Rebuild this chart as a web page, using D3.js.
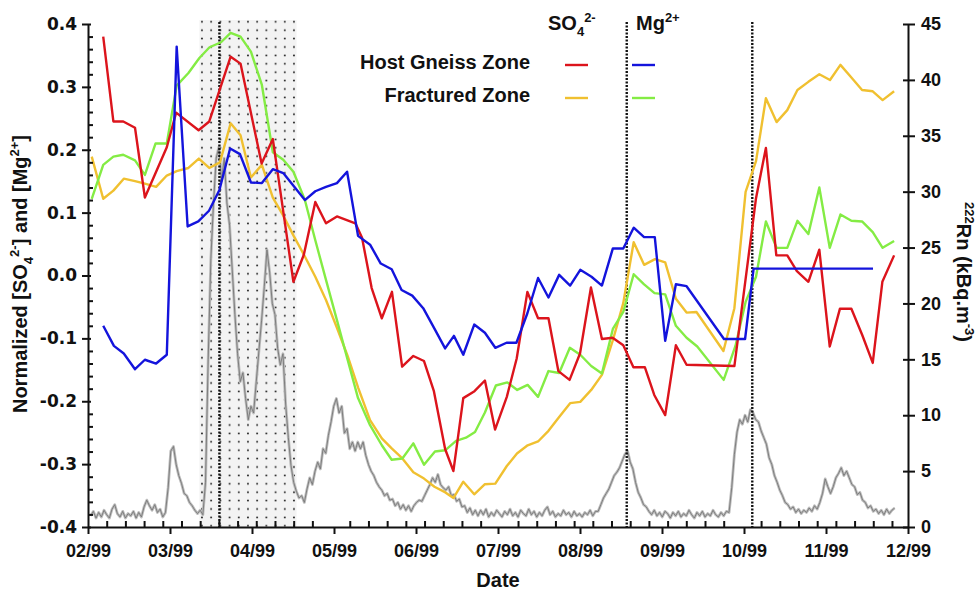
<!DOCTYPE html>
<html>
<head>
<meta charset="utf-8">
<script src="https://cdn.jsdelivr.net/npm/d3@7"></script>
<style>
  body { margin: 0; background: #fff; }
  svg { display: block; font-family: "Liberation Sans", Arial, sans-serif; font-weight: bold; }
</style>
</head>
<body>
<div id="chart"></div>
<script>
// ---- data (x = days after 1 Feb 1999, as laid out on the axis) ----
const monthLabels = ["02/99", "03/99", "04/99", "05/99", "06/99", "07/99", "08/99", "09/99", "10/99", "11/99", "12/99"];
const dayMax = 307;
const leftTickValues = [-0.4, -0.3, -0.2, -0.1, 0, 0.1, 0.2, 0.3, 0.4];
const leftTickLabels = ["-0.4", "-0.3", "-0.2", "-0.1", "0.0", "0.1", "0.2", "0.3", "0.4"];
const rightTickValues = [0, 5, 10, 15, 20, 25, 30, 35, 40, 45];
const shadedPeriod = [41.7, 78.1];
const markerDays = [49.2, 201.7, 248.7];

// SO4 2- , host gneiss zone
const so4Host = [[5.7,0.380],[9.5,0.245],[13.2,0.245],[17.6,0.235],[21.3,0.124],[29.5,0.204],[33.0,0.259],[41.4,0.231],[45.4,0.245],[53.4,0.348],[57.1,0.337],[65.0,0.178],[69.2,0.217],[76.9,-0.010],[80.8,0.033],[85.1,0.117],[89.1,0.083],[93.2,0.094],[100.1,0.083],[102.6,0.060],[106.2,-0.020],[110.0,-0.068],[113.8,-0.026],[117.6,-0.145],[121.8,-0.128],[125.8,-0.136],[129.5,-0.184],[133.7,-0.276],[136.8,-0.311],[140.5,-0.195],[144.7,-0.184],[148.6,-0.167],[152.4,-0.245],[156.8,-0.193],[160.5,-0.132],[164.5,-0.026],[168.5,-0.068],[172.4,-0.068],[176.1,-0.152],[180.3,-0.166],[184.2,-0.124],[188.3,-0.019],[192.4,-0.101],[196.4,-0.099],[200.4,-0.111],[204.2,-0.146],[208.5,-0.146],[212.0,-0.190],[216.1,-0.222],[220.1,-0.111],[224.1,-0.142],[242.0,-0.144],[250.1,0.123],[253.8,0.203],[257.7,0.032],[261.8,0.032],[265.4,0.007],[269.7,-0.010],[273.8,0.041],[277.7,-0.113],[281.5,-0.053],[285.8,-0.053],[289.9,-0.095],[293.8,-0.139],[297.4,-0.010],[301.8,0.032]];

// Mg 2+ , host gneiss zone
const mgHost = [[5.7,-0.080],[9.7,-0.112],[13.4,-0.124],[17.6,-0.149],[21.3,-0.134],[25.5,-0.140],[29.5,-0.126],[33.2,0.364],[37.3,0.078],[41.3,0.086],[45.3,0.103],[49.2,0.136],[53.2,0.202],[56.9,0.193],[61.0,0.148],[65.1,0.147],[69.2,0.169],[73.1,0.163],[81.2,0.120],[85.1,0.134],[89.1,0.141],[93.2,0.147],[97.0,0.165],[101.1,0.063],[105.6,0.049],[109.6,0.019],[113.7,0.010],[117.4,-0.023],[121.4,-0.032],[125.5,-0.052],[129.5,-0.083],[133.7,-0.116],[137.0,-0.096],[140.5,-0.126],[144.6,-0.078],[148.6,-0.091],[152.5,-0.115],[156.7,-0.107],[160.4,-0.107],[164.5,-0.060],[168.5,-0.004],[172.4,-0.035],[176.4,0.001],[180.5,-0.016],[184.3,0.009],[188.5,-0.002],[192.4,-0.016],[196.5,0.043],[200.4,0.043],[204.3,0.076],[208.2,0.061],[212.2,0.061],[216.1,-0.104],[220.1,-0.014],[224.1,-0.017],[238.1,-0.101],[246.0,-0.101],[249.2,0.011],[293.9,0.011]];

// SO4 2- , fractured zone
const so4Frac = [[1.4,0.189],[5.7,0.122],[9.5,0.135],[13.4,0.154],[17.6,0.150],[21.3,0.146],[25.5,0.141],[29.5,0.159],[33.2,0.166],[37.6,0.171],[41.5,0.186],[45.4,0.171],[49.4,0.180],[53.4,0.242],[57.1,0.223],[61.0,0.156],[65.1,0.176],[69.2,0.124],[73.0,0.096],[77.0,0.063],[81.1,0.031],[85.1,-0.002],[89.1,-0.039],[93.2,-0.083],[97.2,-0.128],[101.2,-0.179],[105.6,-0.230],[110.0,-0.259],[113.7,-0.275],[117.7,-0.291],[121.8,-0.313],[125.8,-0.323],[129.7,-0.336],[133.8,-0.345],[136.8,-0.354],[140.5,-0.328],[144.6,-0.348],[148.6,-0.332],[152.5,-0.331],[156.8,-0.303],[160.6,-0.283],[164.6,-0.270],[168.5,-0.264],[172.4,-0.247],[176.4,-0.225],[180.5,-0.203],[184.3,-0.201],[188.4,-0.182],[192.4,-0.158],[196.5,-0.103],[200.4,-0.044],[204.3,0.053],[208.2,0.017],[212.3,0.026],[216.1,0.021],[220.1,-0.037],[224.1,-0.059],[227.8,-0.058],[237.9,-0.120],[242.0,-0.052],[246.2,0.133],[250.1,0.182],[253.8,0.282],[257.8,0.244],[261.8,0.263],[265.6,0.295],[269.7,0.308],[273.8,0.320],[277.8,0.311],[281.7,0.335],[285.8,0.315],[289.8,0.295],[293.8,0.293],[297.5,0.279],[301.8,0.293]];

// Mg 2+ , fractured zone
const mgFrac = [[1.4,0.122],[5.7,0.176],[9.5,0.189],[13.2,0.192],[17.6,0.183],[21.3,0.160],[25.3,0.210],[29.5,0.210],[33.2,0.302],[37.6,0.322],[41.7,0.346],[45.5,0.363],[49.8,0.371],[53.4,0.386],[57.1,0.380],[61.0,0.356],[65.1,0.303],[69.2,0.196],[73.1,0.184],[76.9,0.165],[81.2,0.120],[85.1,0.056],[89.1,-0.007],[93.2,-0.071],[97.2,-0.134],[101.1,-0.195],[105.6,-0.238],[110.0,-0.270],[113.7,-0.293],[117.7,-0.291],[121.8,-0.267],[125.8,-0.301],[129.9,-0.280],[133.7,-0.278],[137.8,-0.263],[141.5,-0.258],[144.9,-0.249],[148.6,-0.218],[152.7,-0.175],[157.0,-0.170],[160.7,-0.182],[164.6,-0.174],[168.5,-0.193],[172.4,-0.152],[176.4,-0.155],[180.4,-0.115],[184.3,-0.126],[188.4,-0.144],[192.4,-0.156],[196.5,-0.085],[200.4,-0.058],[204.3,0.002],[208.2,-0.014],[212.1,-0.028],[216.1,-0.030],[220.1,-0.080],[224.1,-0.099],[228.1,-0.113],[238.0,-0.166],[242.4,-0.112],[246.2,-0.042],[250.1,-0.002],[253.8,0.086],[257.8,0.044],[261.8,0.044],[265.6,0.087],[269.7,0.066],[273.8,0.140],[277.7,0.044],[281.7,0.097],[285.8,0.087],[289.8,0.086],[293.8,0.069],[297.5,0.044],[301.8,0.055]];

// 222Rn (kBq.m-3), daily readings: [first day, values...]
const radonRows = [
  [1,   [1.0, 1.4, 0.8, 1.3, 0.9, 1.5, 1.1, 0.8, 1.6, 2.0]],
  [11,  [1.2, 0.9, 1.4, 0.8, 1.2, 1.0, 1.4, 0.8, 1.3, 0.9]],
  [21,  [1.8, 2.4, 1.9, 1.5, 2.0, 1.3, 1.6, 0.9, 1.3, 3.5]],
  [31,  [6.8, 7.2, 5.6, 4.6, 3.9, 3.0, 2.8, 2.2, 1.9, 1.5]],
  [41,  [1.2, 1.5, 1.1, 4.0, 15, 24, 29, 33, 34, 31]],
  [51,  [33, 29, 27, 23, 19, 15.5, 13, 13.8, 11.5, 9.6]],
  [61,  [10.8, 10.2, 13, 15.8, 18.5, 21.5, 24.8, 22.8, 20, 19]],
  [71,  [16, 14.5, 15.5, 11, 8, 5.5, 4, 3.2, 2.6, 2.8]],
  [81,  [2.2, 3.4, 4.4, 3.8, 5.0, 5.8, 5.2, 7.0, 6.6, 8.2]],
  [91,  [9.4, 10.8, 11.5, 10.2, 10.8, 8.4, 8.8, 7.0, 7.6, 6.8]],
  [101, [7.6, 7.0, 7.6, 6.4, 5.6, 5.0, 4.6, 4.0, 3.6, 3.3]],
  [111, [2.8, 3.0, 2.4, 2.5, 1.9, 2.2, 1.6, 2.0, 1.5, 1.9]],
  [121, [1.4, 1.9, 2.2, 2.4, 2.3, 2.8, 3.3, 3.8, 4.4, 4.0]],
  [131, [4.7, 3.8, 3.5, 3.3, 3.6, 2.8, 2.9, 2.3, 2.5, 1.8]],
  [141, [1.9, 1.3, 1.7, 1.1, 1.5, 1.0, 1.5, 1.1, 1.6, 0.9]],
  [151, [1.3, 1.0, 1.5, 1.2, 0.9, 1.4, 1.1, 1.6, 1.0, 1.3]],
  [161, [0.9, 1.5, 1.2, 1.0, 1.6, 1.1, 1.4, 0.9, 1.3, 1.0]],
  [171, [1.5, 1.8, 1.1, 1.4, 0.9, 1.2, 1.0, 1.5, 1.1, 1.3]],
  [181, [0.9, 1.4, 1.0, 1.2, 0.9, 1.3, 1.1, 1.5, 1.0, 1.4]],
  [191, [1.4, 2.0, 2.6, 3.0, 3.4, 4.0, 4.6, 4.9, 5.3, 5.9]],
  [201, [6.5, 6.8, 5.8, 5.2, 4.0, 3.1, 2.6, 2.0, 1.8, 1.4]],
  [211, [1.1, 1.5, 1.0, 1.3, 0.9, 1.4, 1.2, 0.8, 1.3, 1.0]],
  [221, [1.4, 0.9, 1.2, 1.0, 1.5, 1.1, 0.8, 1.3, 1.0, 1.4]],
  [231, [0.9, 1.2, 1.0, 1.5, 1.1, 0.9, 1.3, 1.0, 1.4, 1.3]],
  [241, [3.5, 6.5, 8.5, 9.6, 9.2, 10.0, 9.4, 10.5, 10.2, 9.6]],
  [251, [9.4, 8.6, 8.0, 7.4, 6.2, 5.6, 4.6, 4.0, 3.3, 2.8]],
  [261, [2.2, 2.0, 1.6, 1.8, 1.3, 1.6, 1.2, 1.5, 1.3, 1.7]],
  [271, [1.4, 1.9, 1.6, 2.2, 3.0, 4.3, 3.6, 3.0, 3.6, 4.4]],
  [281, [4.8, 5.3, 4.6, 5.0, 4.4, 3.8, 3.6, 2.9, 3.1, 2.4]],
  [291, [2.2, 1.7, 1.9, 1.4, 1.6, 1.2, 1.5, 1.1, 1.6, 1.2]],
  [301, [1.5, 1.7]]
];

const seriesColors = {so4Host: "#dc141c", mgHost: "#1414dc", so4Frac: "#f0c030", mgFrac: "#84ec44"};

(function() {
    // 1. Setup dimensions and margins
    const margin = {top: 24, right: 70, bottom: 64, left: 88};
    const width = 978 - margin.left - margin.right;
    const height = 591 - margin.top - margin.bottom;

    const root = d3.select("#chart")
        .append("svg")
        .attr("width", 978)
        .attr("height", 591);

    const svg = root.append("g")
        .attr("transform", `translate(${margin.left},${margin.top})`);

    // 2. Scales
    const x = d3.scaleLinear().domain([0, dayMax]).range([0, width]);
    const yLeft = d3.scaleLinear().domain([-0.4, 0.4]).range([height, 0]);
    const yRight = d3.scaleLinear().domain([0, 45]).range([height, 0]);

    const monthTicks = monthLabels.map((_, i) => i * dayMax / (monthLabels.length - 1));
    const weekTicks = d3.range(7, dayMax, 7)
        .filter(d => monthTicks.every(m => Math.abs(x(m) - x(d)) > 3));
    const leftMinor = d3.range(-0.38, 0.4, 0.02).filter(v => Math.abs(Math.round(v * 10) - v * 10) > 0.05);

    // 3. Dotted period box
    const defs = root.append("defs");
    const pat = defs.append("pattern")
        .attr("id", "dots")
        .attr("patternUnits", "userSpaceOnUse")
        .attr("width", 9.2)
        .attr("height", 8.4)
        .attr("x", margin.left + x(shadedPeriod[0]) + 2)
        .attr("y", 2);
    pat.append("rect").attr("width", 9.2).attr("height", 8.4).attr("fill", "#f3f3f3");
    pat.append("circle").attr("cx", 4.6).attr("cy", 4.2).attr("r", 1.0).attr("fill", "#222");

    svg.append("rect")
        .attr("x", x(shadedPeriod[0]))
        .attr("y", -4)
        .attr("width", x(shadedPeriod[1]) - x(shadedPeriod[0]))
        .attr("height", height + 4)
        .attr("fill", "url(#dots)");

    // 4. Radon series (right axis) - a soft band plus a thin core
    const radon = radonRows.flatMap(([start, vals]) => vals.map((v, i) => [start + i, v]));
    const radonLine = d3.line().x(d => x(d[0])).y(d => yRight(d[1]));
    svg.append("path")
        .datum(radon)
        .attr("fill", "none")
        .attr("stroke", "#bdbdbd")
        .attr("stroke-width", 2.8)
        .attr("stroke-linejoin", "round")
        .attr("d", radonLine);
    svg.append("path")
        .datum(radon)
        .attr("fill", "none")
        .attr("stroke", "#777")
        .attr("stroke-width", 0.9)
        .attr("stroke-linejoin", "round")
        .attr("d", radonLine);

    // 5. Vertical event markers
    svg.selectAll(".marker")
        .data(markerDays)
        .enter()
        .append("line")
        .attr("class", "marker")
        .attr("x1", d => x(d))
        .attr("x2", d => x(d))
        .attr("y1", -2)
        .attr("y2", height)
        .attr("stroke", "#111")
        .attr("stroke-width", 2.4)
        .attr("stroke-dasharray", "2,1.5");

    // 6. Chemistry lines (left axis)
    const lineGen = d3.line().x(d => x(d[0])).y(d => yLeft(d[1]));
    const seriesData = {so4Host, mgHost, so4Frac, mgFrac};
    ["so4Frac", "mgFrac", "so4Host", "mgHost"].forEach(key => {
        svg.append("path")
            .datum(seriesData[key])
            .attr("fill", "none")
            .attr("stroke", seriesColors[key])
            .attr("stroke-width", 2.4)
            .attr("stroke-linejoin", "round")
            .attr("d", lineGen);
    });

    // 7. Axes
    const bottom = svg.append("g")
        .attr("transform", `translate(0,${height})`)
        .call(d3.axisBottom(x).tickValues(monthTicks).tickFormat((d, i) => monthLabels[i]).tickSize(7).tickSizeOuter(0).tickPadding(10));
    svg.append("g")
        .attr("transform", `translate(0,${height})`)
        .call(d3.axisTop(x).tickValues(weekTicks).tickFormat("").tickSize(6).tickSizeOuter(0))
        .select(".domain").remove();

    const left = svg.append("g")
        .call(d3.axisLeft(yLeft).tickValues(leftTickValues).tickFormat((d, i) => leftTickLabels[i]).tickSize(6).tickSizeOuter(0).tickPadding(5));
    left.selectAll(".tick line").attr("x1", 3);
    svg.append("g")
        .call(d3.axisRight(yLeft).tickValues(leftMinor).tickFormat("").tickSize(5).tickSizeOuter(0))
        .select(".domain").remove();

    const right = svg.append("g")
        .attr("transform", `translate(${width},0)`)
        .call(d3.axisRight(yRight).tickValues(rightTickValues).tickSize(7).tickSizeOuter(0).tickPadding(6));
    right.selectAll(".tick line").attr("x1", -5);

    [bottom, left, right].forEach(g => {
        g.selectAll(".domain").attr("stroke", "#111").attr("stroke-width", 2);
        g.selectAll("text")
            .attr("fill", "#111")
            .style("font-family", "'Liberation Sans', Arial, sans-serif")
            .style("font-weight", "bold")
            .style("font-size", "18px");
    });
    // the left labels are set in a wider face in the original
    left.selectAll("text")
        .style("font-family", "'DejaVu Sans', Verdana, sans-serif")
        .style("font-size", "17px");
    svg.selectAll(".tick line").attr("stroke", "#111").attr("stroke-width", 2);

    // 8. Axis titles (with sub/superscripts)
    function richText(sel, parts, small) {
        let cur = 0;
        parts.forEach(([t, kind]) => {
            const target = kind === "sup" ? -8 : kind === "sub" ? 6 : 0;
            sel.append("tspan")
                .attr("dy", target - cur)
                .style("font-size", kind === "n" ? null : small + "px")
                .text(t);
            cur = target;
        });
    }

    const titleStyle = s => s.attr("fill", "#111").style("font-size", "20px").style("font-weight", "bold");

    svg.append("text")
        .call(titleStyle)
        .attr("text-anchor", "middle")
        .attr("x", width / 2)
        .attr("y", height + 60)
        .text("Date");

    const leftTitle = svg.append("text")
        .call(titleStyle)
        .attr("text-anchor", "middle")
        .attr("transform", `translate(${27 - margin.left},${250}) rotate(-90)`);
    richText(leftTitle, [["Normalized [SO", "n"], ["4", "sub"], ["2-", "sup"], ["] and [Mg", "n"], ["2+", "sup"], ["]", "n"]], 13);

    const rightTitle = svg.append("text")
        .call(titleStyle)
        .attr("text-anchor", "middle")
        .attr("transform", `translate(${957 - margin.left},${248}) rotate(90)`);
    richText(rightTitle, [["222", "sup"], ["Rn (kBq.m", "n"], ["-3", "sup"], [")", "n"]], 13);

    // 9. Legend
    const legend = root.append("g");
    const so4Head = legend.append("text").call(titleStyle).attr("x", 548).attr("y", 30);
    richText(so4Head, [["SO", "n"], ["4", "sub"], ["2-", "sup"]], 13);
    const mgHead = legend.append("text").call(titleStyle).attr("x", 636).attr("y", 30);
    richText(mgHead, [["Mg", "n"], ["2+", "sup"]], 13);

    const legendRows = [
        {label: "Host Gneiss Zone", y: 69, keys: ["so4Host", "mgHost"]},
        {label: "Fractured Zone", y: 102, keys: ["so4Frac", "mgFrac"]}
    ];
    legendRows.forEach(row => {
        legend.append("text")
            .call(titleStyle)
            .attr("text-anchor", "end")
            .attr("x", 530)
            .attr("y", row.y)
            .text(row.label);
        row.keys.forEach((k, i) => {
            legend.append("line")
                .attr("x1", 565 + i * 67)
                .attr("x2", 588 + i * 67)
                .attr("y1", row.y - 4)
                .attr("y2", row.y - 4)
                .attr("stroke", seriesColors[k])
                .attr("stroke-width", 2.4);
        });
    });
})();
</script>
</body>
</html>
